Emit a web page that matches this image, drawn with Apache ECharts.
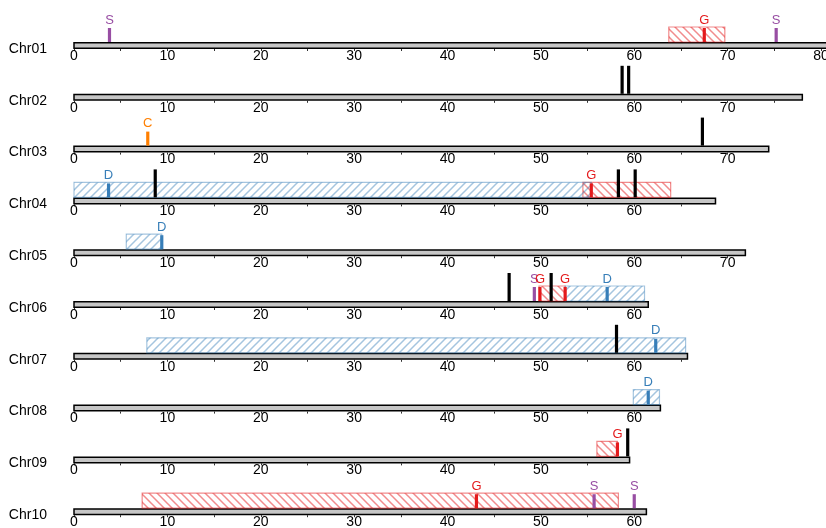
<!DOCTYPE html>
<html>
<head>
<meta charset="utf-8">
<script src="https://cdn.jsdelivr.net/npm/echarts@6/dist/echarts.min.js"></script>
<style>
html, body { margin: 0; padding: 0; background: #fff; }
#chart { width: 826px; height: 528px; }
</style>
</head>
<body>
<div id="chart"></div>
<script>
var chromNames = ['Chr01', 'Chr02', 'Chr03', 'Chr04', 'Chr05', 'Chr06', 'Chr07', 'Chr08', 'Chr09', 'Chr10'];
var chromLengths = [81.5, 78.0, 74.4, 68.7, 71.9, 61.5, 65.7, 62.8, 59.5, 61.3];

// hatched intervals: [chromosome index, start, end]
var gRegions = [[0, 63.7, 69.7], [3, 54.5, 63.9], [5, 49.8, 52.6], [8, 56.0, 58.2], [9, 7.3, 58.3]];
var dRegions = [[3, 0, 55.4], [4, 5.6, 9.4], [5, 52.6, 61.1], [6, 7.8, 65.5], [7, 59.9, 62.7]];

// markers: [chromosome index, position]
var sMarkers = [[0, 3.8], [0, 75.2], [5, 49.3], [9, 55.7], [9, 60.0]];
var gMarkers = [[0, 67.5], [3, 55.4], [5, 49.9], [5, 52.6], [8, 58.2], [9, 43.1]];
var dMarkers = [[3, 3.7], [4, 9.4], [5, 57.1], [6, 62.3], [7, 61.5]];
var cMarkers = [[2, 7.9]];
var blackMarkers = [[1, 58.7], [1, 59.4], [2, 67.3], [3, 8.7], [3, 58.3], [3, 60.1],
                    [5, 46.6], [5, 51.1], [6, 58.1], [8, 59.3]];

var FONT = '"Liberation Sans", Arial, sans-serif';
// type index: 0 S, 1 G, 2 D, 3 C, 4 unlabeled
var markLabels = ['S', 'G', 'D', 'C', ''];
var markColors = ['#984ea3', '#e41a1c', '#377eb8', '#ff7f00', '#000000'];

var BAR_H = 7;
var ROW0 = 42, ROW_STEP = 51.8;

function hatch(color, forward) {
  var c = document.createElement('canvas');
  c.width = c.height = 8;
  var g = c.getContext('2d');
  g.strokeStyle = color;
  g.lineWidth = 1.5;
  g.beginPath();
  if (forward) {          // '/'
    g.moveTo(-1, 9); g.lineTo(9, -1);
    g.moveTo(-1, 1); g.lineTo(1, -1);
    g.moveTo(7, 9); g.lineTo(9, 7);
  } else {                // '\'
    g.moveTo(-1, -1); g.lineTo(9, 9);
    g.moveTo(-1, 7); g.lineTo(1, 9);
    g.moveTo(7, -1); g.lineTo(9, 1);
  }
  g.stroke();
  return c;
}
var regionStyle = {
  1: { fill: { image: hatch('rgba(228,26,28,0.5)', false), repeat: 'repeat' }, stroke: 'rgba(228,26,28,0.5)' },
  2: { fill: { image: hatch('rgba(55,126,184,0.45)', true), repeat: 'repeat' }, stroke: 'rgba(55,126,184,0.45)' }
};

function renderBar(params, api) {
  var a = api.coord([api.value(0), 0]);
  var b = api.coord([api.value(1), 0]);
  return {
    type: 'rect',
    shape: { x: a[0], y: a[1] - BAR_H + 0.75, width: b[0] - a[0], height: BAR_H - 1.5 },
    style: { fill: '#c6c6c6', stroke: '#000', lineWidth: 1.5 }
  };
}

function renderRegion(params, api) {
  var a = api.coord([api.value(0), 0]);
  var b = api.coord([api.value(1), 0]);
  var st = regionStyle[api.value(2)];
  var top = a[1] - BAR_H;
  return {
    type: 'rect',
    shape: { x: a[0], y: top - 15, width: b[0] - a[0], height: 15 },
    style: { fill: st.fill, stroke: st.stroke, lineWidth: 1.2 }
  };
}

function renderMarker(params, api) {
  var t = api.value(1);
  var p = api.coord([api.value(0), 0]);
  var top = p[1] - BAR_H;
  var h = t === 4 ? 28 : 14;
  var children = [{
    type: 'rect',
    shape: { x: p[0] - 1.6, y: top - h, width: 3.2, height: h },
    style: { fill: markColors[t] }
  }];
  if (markLabels[t]) {
    children.push({
      type: 'text',
      x: p[0], y: top - 22,
      style: {
        text: markLabels[t], fill: markColors[t], fontSize: 13, fontFamily: FONT,
        align: 'center', verticalAlign: 'middle', textAlign: 'center', textVerticalAlign: 'middle'
      }
    });
  }
  return { type: 'group', children: children };
}

function forChrom(list, i) {
  return list.filter(function (d) { return d[0] === i; });
}

var grids = [], xAxes = [], yAxes = [], series = [];
chromNames.forEach(function (name, i) {
  var axisY = ROW0 + ROW_STEP * i + BAR_H;
  var len = chromLengths[i];
  var ticks = [], labels = [];
  for (var v = 0; v <= len; v += 5) {
    ticks.push(v);
    if (v % 10 === 0) labels.push(v);
  }
  grids.push({ left: 74, width: 747, top: axisY - 40, height: 40, outerBoundsMode: 'none' });
  xAxes.push({
    type: 'value', gridIndex: i, min: 0, max: 80, interval: 10,
    name: name, nameLocation: 'start', nameGap: 27,
    nameTextStyle: { fontSize: 14, color: '#000', fontFamily: FONT, padding: [0, 0, 5, 0] },
    axisLine: { show: false },
    splitLine: { show: false },
    axisTick: { show: true, length: 2, customValues: ticks, lineStyle: { color: '#333', width: 1 } },
    axisLabel: { customValues: labels, margin: 0, fontSize: 14, color: '#000', fontFamily: FONT }
  });
  yAxes.push({ type: 'value', gridIndex: i, min: 0, max: 1, show: false });

  var regions = forChrom(gRegions, i).map(function (d) { return [d[1], d[2], 1]; })
    .concat(forChrom(dRegions, i).map(function (d) { return [d[1], d[2], 2]; }));
  var marks = [];
  [sMarkers, gMarkers, dMarkers, cMarkers, blackMarkers].forEach(function (list, t) {
    forChrom(list, i).forEach(function (d) { marks.push([d[1], t]); });
  });

  series.push({ type: 'custom', xAxisIndex: i, yAxisIndex: i, renderItem: renderBar, data: [[0, len]], clip: false });
  series.push({ type: 'custom', xAxisIndex: i, yAxisIndex: i, renderItem: renderRegion, data: regions, clip: false });
  series.push({ type: 'custom', xAxisIndex: i, yAxisIndex: i, renderItem: renderMarker, data: marks, clip: false });
});

var chart = echarts.init(document.getElementById('chart'), null, { renderer: 'canvas' });
chart.setOption({
  animation: false,
  backgroundColor: '#fff',
  grid: grids,
  xAxis: xAxes,
  yAxis: yAxes,
  series: series
});
</script>
</body>
</html>
